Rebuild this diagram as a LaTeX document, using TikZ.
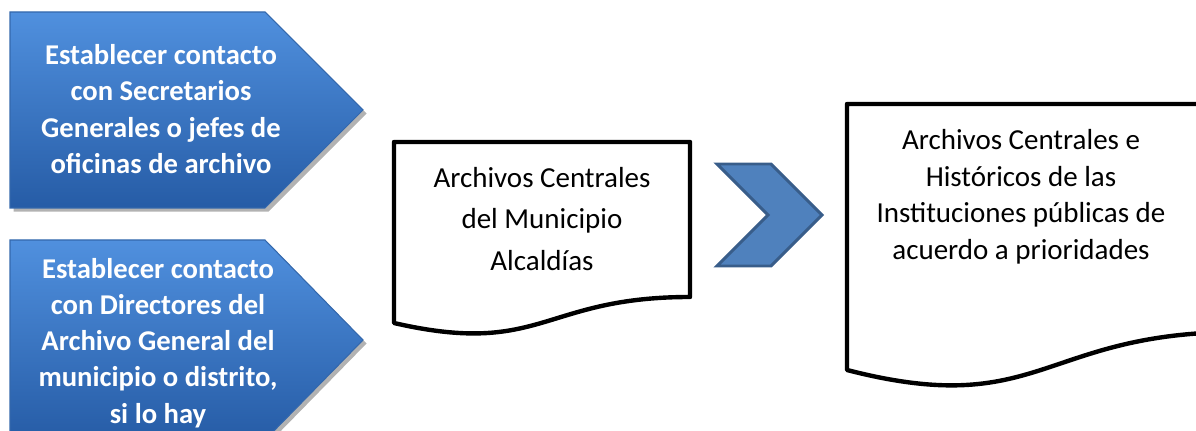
\documentclass[tikz,border=0pt]{standalone}
\usepackage{fontspec}
\setmainfont{Carlito}
\usetikzlibrary{shadows}
\definecolor{tagtop}{RGB}{80,144,222}
\definecolor{tagbot}{RGB}{38,92,166}
\definecolor{tagline}{RGB}{52,104,172}
\definecolor{chevfill}{RGB}{79,129,189}
\definecolor{chevline}{RGB}{56,93,138}

\begin{document}
\begin{tikzpicture}[x=0.02cm, y=-0.02cm,
  tag/.style = {draw=tagline, line width=0.6pt, top color=tagtop, bottom color=tagbot,
    drop shadow={shadow xshift=2pt, shadow yshift=-2pt, fill=black, opacity=0.3}},
  tagtext/.style = {text=white, align=center, inner sep=0pt,
    font=\fontsize{16.3pt}{20.6pt}\selectfont\bfseries},
  doc/.style = {draw=black, line width=2.5pt, fill=white, line join=round},
  doctext/.style = {align=center, inner sep=0pt},
  chev/.style = {draw=chevline, line width=1.7pt, fill=chevfill, line join=miter}]
  \useasboundingbox (0,0) rectangle (1196,431);
  \clip (0,0) rectangle (1196,431);

  \draw[tag] (10,12) -- (265,12) -- (363,110) -- (265,208) -- (10,208) -- cycle;
  \draw[tag] (10,240) -- (265,240) -- (363,340) -- (265,440) -- (10,440) -- cycle;
  \node[tagtext] (contacto1) at (161,109)
    {Establecer contacto\\con Secretarios\\Generales o jefes de\\oficinas de archivo};
  \node[tagtext] (contacto2) at (158,343)
    {Establecer contacto\\con Directores del\\Archivo General del\\municipio o distrito,\\si lo hay};

  \draw[doc] (394,142) -- (690,142) -- (690,297)
    .. controls (542,297) and (542,357) .. (394,323) -- cycle;
  \node[doctext, font=\fontsize{16.5pt}{23.5pt}\selectfont] (municipio) at (542,219)
    {Archivos Centrales\\del Municipio\\Alcaldías};

  \draw[chev] (717,164) -- (771,164) -- (822,215) -- (771,266) -- (717,266) -- (768,215) -- cycle;

  \draw[doc] (847,104) -- (1240,104) -- (1240,332)
    .. controls (1041,332) and (1041,420) .. (847,370) -- cycle;
  \node[doctext, font=\fontsize{16.5pt}{20.8pt}\selectfont] (instituciones) at (1021,197)
    {Archivos Centrales e\\Históricos de las\\Instituciones públicas de\\acuerdo a prioridades};
\end{tikzpicture}
\end{document}
